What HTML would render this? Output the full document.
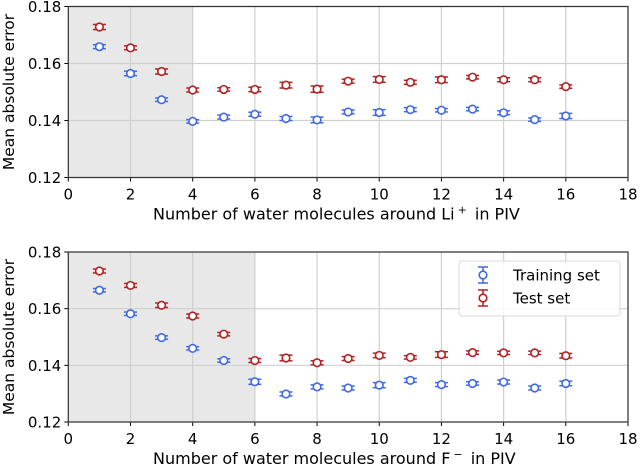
<!DOCTYPE html>
<html><head><meta charset="utf-8">
<style>
html,body{margin:0;padding:0;background:#fff;}
svg{display:block;font-family:"DejaVu Sans","Liberation Sans",sans-serif;}
</style></head>
<body>
<svg id="chart" width="640" height="468" viewBox="0 0 640 468"></svg>
<script>
const xCats=[1,2,3,4,5,6,7,8,9,10,11,12,13,14,15,16];
const xTicks=[0,2,4,6,8,10,12,14,16,18];
const yTicks=[0.12,0.14,0.16,0.18];
const yTickLabels=["0.12","0.14","0.16","0.18"];
const liTrain=[0.1659,0.1565,0.1473,0.1397,0.1412,0.1422,0.1407,0.1402,0.1430,0.1428,0.1438,0.1436,0.1440,0.1427,0.1403,0.1416];
const liTrainErr=[0.0007,0.0008,0.0006,0.0006,0.0007,0.0007,0.0007,0.0010,0.0007,0.0010,0.0007,0.0006,0.0006,0.0007,0.0006,0.0009];
const liTest=[0.1728,0.1655,0.1572,0.1507,0.1509,0.1509,0.1524,0.1510,0.1538,0.1544,0.1534,0.1543,0.1552,0.1543,0.1543,0.1519];
const liTestErr=[0.0009,0.0007,0.0009,0.0007,0.0006,0.0008,0.0010,0.0011,0.0007,0.0010,0.0007,0.0010,0.0006,0.0007,0.0007,0.0006];
const fTrain=[0.1665,0.1582,0.1498,0.1460,0.1417,0.1342,0.1299,0.1324,0.1320,0.1330,0.1347,0.1332,0.1336,0.1341,0.1320,0.1336];
const fTrainErr=[0.0006,0.0006,0.0006,0.0006,0.0006,0.0009,0.0007,0.0007,0.0007,0.0009,0.0007,0.0007,0.0006,0.0007,0.0007,0.0008];
const fTest=[0.1733,0.1682,0.1612,0.1574,0.1510,0.1417,0.1426,0.1409,0.1424,0.1435,0.1428,0.1438,0.1445,0.1444,0.1444,0.1434];
const fTestErr=[0.0007,0.0007,0.0008,0.0007,0.0006,0.0007,0.0010,0.0007,0.0007,0.0008,0.0006,0.0010,0.0006,0.0006,0.0006,0.0008];
const panelShade=[4,6];
const panelTitles=["Number of water molecules around Li","Number of water molecules around F"];
const panelSup=["+","\u2212"];

const NS="http://www.w3.org/2000/svg";
const svg=document.getElementById('chart');
const BLUE="#4169e1", RED="#b22222";
function mk(tag,attrs,parent){const e=document.createElementNS(NS,tag);for(const k in attrs)e.setAttribute(k,attrs[k]);(parent||svg).appendChild(e);return e;}

const L=68.3,R=628;
const panels=[{top:6.5,bot:177.5,train:liTrain,trainE:liTrainErr,test:liTest,testE:liTestErr},
              {top:252,bot:422,train:fTrain,trainE:fTrainErr,test:fTest,testE:fTestErr}];
panels.forEach((p,pi)=>{
  const g=mk('g',{});
  
  
  const xs=v=>L+(v-0)/(18-0)*(R-L);
  const ys=v=>p.bot-(v-0.12)/(0.18-0.12)*(p.bot-p.top);
  const sh=mk('rect',{x:xs(0),y:p.top,width:xs(panelShade[pi])-xs(0),height:p.bot-p.top,fill:"#e8e8e8"},g);
  
  
  xTicks.forEach(t=>{
    const gl=mk('line',{x1:xs(t),x2:xs(t),y1:p.top,y2:p.bot,stroke:"#cfcfcf","stroke-width":1.2},g);
    
    
    mk('line',{x1:xs(t),x2:xs(t),y1:p.bot,y2:p.bot+4,stroke:"#000","stroke-width":1},g);
    const tx=mk('text',{x:xs(t),y:p.bot+22,"text-anchor":"middle","font-size":15,fill:"#000"},g);
    tx.textContent=t;
    
    
  });
  yTicks.forEach((t,i)=>{
    const gl=mk('line',{x1:L,x2:R,y1:ys(t),y2:ys(t),stroke:"#cfcfcf","stroke-width":1.2},g);
    
    
    mk('line',{x1:L-4,x2:L,y1:ys(t),y2:ys(t),stroke:"#000","stroke-width":1},g);
    const tx=mk('text',{x:L-7,y:ys(t)+5.5,"text-anchor":"end","font-size":15,fill:"#000"},g);
    tx.textContent=yTickLabels[i];
    
    
  });
  const fr=mk('rect',{x:L,y:p.top,width:R-L,height:p.bot-p.top,fill:"none",stroke:"#333","stroke-width":1.2},g);
  
  
  function series(vals,errs,col,name){
    vals.forEach((v,i)=>{
      const x=xs(xCats[i]),y=ys(v),e1=ys(v+errs[i]),e2=ys(v-errs[i]);
      const pg=mk('g',{},g);
      
      
      mk('line',{x1:x,x2:x,y1:e1,y2:e2,stroke:col,"stroke-width":1.5},pg);
      mk('line',{x1:x-6.5,x2:x+6.5,y1:e1,y2:e1,stroke:col,"stroke-width":1.5},pg);
      mk('line',{x1:x-6.5,x2:x+6.5,y1:e2,y2:e2,stroke:col,"stroke-width":1.5},pg);
      mk('circle',{cx:x,cy:y,r:3.8,fill:"#fff",stroke:col,"stroke-width":1.6},pg);
    });
  }
  series(p.train,p.trainE,BLUE,'training');
  series(p.test,p.testE,RED,'test');
  const yl=mk('text',{x:0,y:0,transform:`translate(14,${(p.top+p.bot)/2}) rotate(-90)`,"text-anchor":"middle","font-size":15.5,fill:"#000"},g);
  yl.textContent="Mean absolute error";
  
  
  const xl=mk('text',{x:153,y:p.bot+42,"text-anchor":"start","font-size":16,fill:"#000"},g);
  
  
  xl.appendChild(document.createTextNode(panelTitles[pi]));
  const sp=mk('tspan',{dx:3,dy:-6,"font-size":11},xl);sp.textContent=panelSup[pi];
  const rest=mk('tspan',{dx:3,dy:6,"font-size":16},xl);rest.textContent=" in PIV";
});

const lg=mk('g',{});


mk('rect',{x:459,y:261,width:161,height:55,rx:3,fill:"#fff","fill-opacity":0.85,stroke:"#d8d8d8"},lg);
[[BLUE,"Training set",275,'legend-entry-training'],[RED,"Test set",298,'legend-entry-test']].forEach(d=>{
  const eg=mk('g',{},lg);
  
  
  const x=483,y=d[2];
  mk('line',{x1:x,x2:x,y1:y-8,y2:y+8,stroke:d[0],"stroke-width":1.5},eg);
  mk('line',{x1:x-5,x2:x+5,y1:y-8,y2:y-8,stroke:d[0],"stroke-width":1.5},eg);
  mk('line',{x1:x-5,x2:x+5,y1:y+8,y2:y+8,stroke:d[0],"stroke-width":1.5},eg);
  mk('circle',{cx:x,cy:y,r:3.8,fill:"#fff",stroke:d[0],"stroke-width":1.6},eg);
  const t=mk('text',{x:513,y:y+5.5,"font-size":15,fill:"#000"},eg);t.textContent=d[1];
});
</script>
</body></html>
